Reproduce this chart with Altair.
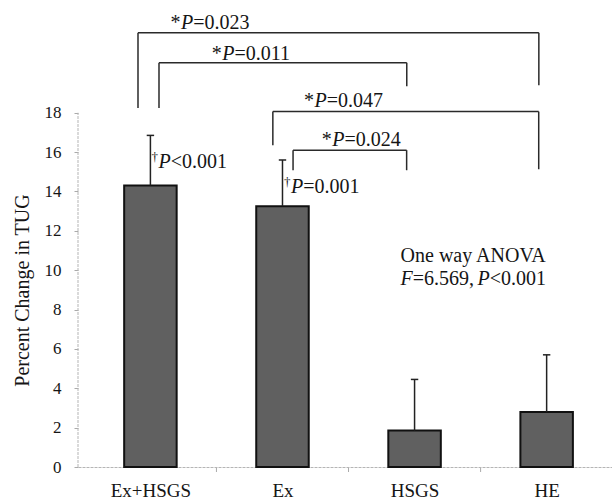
import json
import altair as alt
import pandas as pd

# ---- data ----
groups = ["Ex+HSGS", "Ex", "HSGS", "HE"]
means = [14.3, 13.25, 1.85, 2.8]
sds = [2.55, 2.35, 2.6, 2.9]

# brackets (x in category units, y in % units)
br_left = [-0.094, 0.065, 0.927, 1.08]
br_right = [2.941, 1.941, 2.94, 1.94]
br_top = [22.06, 20.54, 18.06, 16.1]
br_left_end = [18.24, 18.24, 16.35, 15.08]
br_right_end = [19.4, 19.35, 15.13, 15.08]

# p-value labels: prefix, italic letter, rest, x (start of italic letter), y (baseline)
star_prefix = ["*", "*", "*", "*"]
star_italic = ["P", "P", "P", "P"]
star_rest = ["=0.023", "=0.011", "=0.047", "=0.024"]
star_x = [0.2325, 0.5446, 1.243, 1.377]
star_y = [22.28, 20.70, 18.30, 16.30]

dag_prefix = ["\u2020", "\u2020"]
dag_italic = ["P", "P"]
dag_rest = ["<0.001", "=0.001"]
dag_x = [0.0617, 1.065]
dag_y = [15.17, 13.9]

anova_line1 = "One way ANOVA"
anova_parts_italic = ["F", "P"]
anova_parts_rest = ["=6.569,", "<0.001"]
anova_x = [1.894, 2.477]
anova_y1 = 10.42
anova_y2 = 9.27

y_ticks = [0, 2, 4, 6, 8, 10, 12, 14, 16, 18]

# ---- tables ----
bars = pd.DataFrame({
    "idx": list(range(len(groups))),
    "group": groups,
    "mean": means,
    "upper": [m + s for m, s in zip(means, sds)],
})
bars["capL"] = bars["idx"] - 0.028
bars["capR"] = bars["idx"] + 0.028

brackets = pd.DataFrame({"l": br_left, "r": br_right, "t": br_top,
                         "le": br_left_end, "re": br_right_end})
stars = pd.DataFrame({"x": star_x, "y": star_y, "pre": star_prefix,
                      "it": star_italic, "rest": star_rest})
dags = pd.DataFrame({"x": dag_x, "y": dag_y, "pre": dag_prefix,
                     "it": dag_italic, "rest": dag_rest})
anova = pd.DataFrame({"x": anova_x, "y": [anova_y2, anova_y2],
                      "it": anova_parts_italic, "rest": anova_parts_rest})
anova_title = pd.DataFrame({"x": [anova_x[0]], "y": [anova_y1], "t": [anova_line1]})
boundaries = pd.DataFrame({"b": [i + 0.5 for i in range(len(groups) - 1)]})
yline = pd.DataFrame({"y0": [y_ticks[0]], "y1": [y_ticks[-1]]})

FONT = "Liberation Serif"
INK = "#151515"
FS = 20

xscale = alt.Scale(domain=[-0.5104, 3.457], nice=False, zero=False)
yscale = alt.Scale(domain=[0, 23.73], nice=False, zero=False)

label_expr = json.dumps(groups) + "[datum.value]"
xaxis = alt.Axis(values=list(range(len(groups))), labelExpr=label_expr, title=None,
                 grid=False, ticks=False, domainColor="#b5b5b5", domainDash=[3, 1],
                 labelFont=FONT, labelFontSize=19, labelColor=INK, labelPadding=14)
yaxis = alt.Axis(values=y_ticks, title="Percent Change in TUG", grid=False, domain=False,
                 tickColor="#aaaaaa", tickSize=4, labelFont=FONT, labelFontSize=17,
                 labelColor=INK, labelPadding=13, titleFont=FONT, titleFontSize=20,
                 titleFontWeight="normal", titleColor=INK, titleAngle=270,
                 titleX=-56, titleY=290, titleAlign="center", titleBaseline="middle")


def X(f, **kw):
    return alt.X(f, type="quantitative", scale=xscale, axis=xaxis, **kw)


def Y(f, **kw):
    return alt.Y(f, type="quantitative", scale=yscale, axis=yaxis, **kw)


bar_layer = alt.Chart(bars).mark_bar(size=52.5, fill="#606060", stroke="#111111",
                                      strokeWidth=2).encode(x=X("idx"), y=Y("mean"))
err_layer = alt.Chart(bars).mark_rule(color="#222222", strokeWidth=1.5).encode(
    x=X("idx"), y=Y("mean"), y2="upper:Q")
cap_layer = alt.Chart(bars).mark_rule(color="#222222", strokeWidth=1.5).encode(
    x=X("capL"), x2="capR:Q", y=Y("upper"))

yline_layer = alt.Chart(yline).mark_rule(color="#b5b5b5", strokeDash=[3, 1]).encode(
    x=alt.value(0), y=Y("y0"), y2="y1:Q")
xtick_layer = alt.Chart(boundaries).mark_rule(color="#aaaaaa").encode(
    x=X("b"), y=alt.value(468), y2=alt.value(472))

BR = dict(color="#2a2a2a", strokeWidth=1.5)
br_h = alt.Chart(brackets).mark_rule(**BR).encode(x=X("l"), x2="r:Q", y=Y("t"))
br_vl = alt.Chart(brackets).mark_rule(**BR).encode(x=X("l"), y=Y("t"), y2="le:Q")
br_vr = alt.Chart(brackets).mark_rule(**BR).encode(x=X("r"), y=Y("t"), y2="re:Q")

TXT = dict(font=FONT, fontSize=FS, color=INK, baseline="alphabetic")
it_w = 0.611 * FS

st_pre = alt.Chart(stars).mark_text(align="right", dx=-0.5, **TXT).encode(
    x=X("x"), y=Y("y"), text="pre:N")
st_it = alt.Chart(stars).mark_text(align="left", fontStyle="italic", **TXT).encode(
    x=X("x"), y=Y("y"), text="it:N")
st_rest = alt.Chart(stars).mark_text(align="left", dx=it_w, **TXT).encode(
    x=X("x"), y=Y("y"), text="rest:N")

dg_pre = alt.Chart(dags).mark_text(align="right", dx=-0.5, dy=-7, font=FONT, fontSize=13,
                                   color=INK, baseline="alphabetic").encode(
    x=X("x"), y=Y("y"), text="pre:N")
dg_it = alt.Chart(dags).mark_text(align="left", fontStyle="italic", **TXT).encode(
    x=X("x"), y=Y("y"), text="it:N")
dg_rest = alt.Chart(dags).mark_text(align="left", dx=it_w, **TXT).encode(
    x=X("x"), y=Y("y"), text="rest:N")

an_title = alt.Chart(anova_title).mark_text(align="left", **TXT).encode(
    x=X("x"), y=Y("y"), text="t:N")
an_it = alt.Chart(anova).mark_text(align="left", fontStyle="italic", **TXT).encode(
    x=X("x"), y=Y("y"), text="it:N")
an_rest = alt.Chart(anova).mark_text(align="left", dx=it_w, **TXT).encode(
    x=X("x"), y=Y("y"), text="rest:N")

chart = alt.layer(
    bar_layer, err_layer, cap_layer, yline_layer, xtick_layer,
    br_h, br_vl, br_vr,
    st_pre, st_it, st_rest, dg_pre, dg_it, dg_rest,
    an_title, an_it, an_rest,
).properties(
    width=534, height=467,
    autosize=alt.AutoSizeParams(type="none"),
    padding={"left": 78, "top": 0, "right": 0, "bottom": 33},
    background="white",
).configure_view(stroke=None).configure_axis(
    labelFont=FONT, titleFont=FONT
).configure_text(font=FONT)

chart.save("out.html", embed_options={"renderer": "svg", "actions": False})
